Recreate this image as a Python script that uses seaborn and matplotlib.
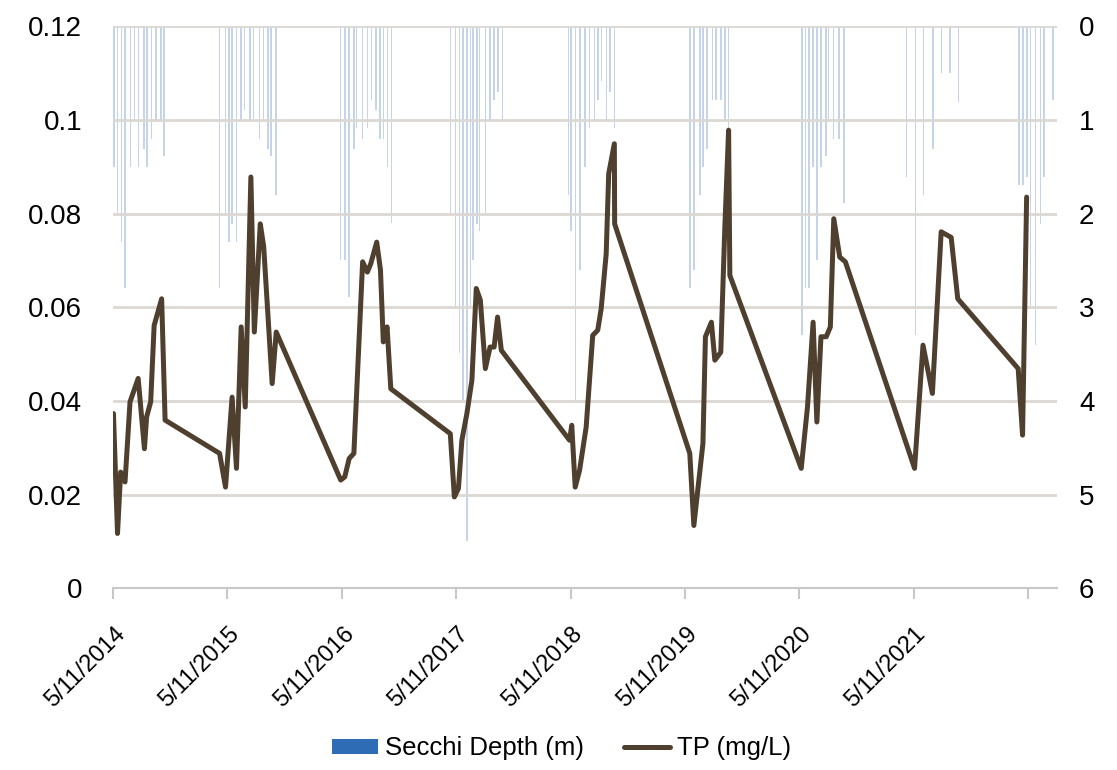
import pandas as pd
import numpy as np
import matplotlib
matplotlib.use("Agg")
import matplotlib.pyplot as plt
import matplotlib.transforms as mtransforms
from matplotlib.patches import Patch
from matplotlib.lines import Line2D
import seaborn as sns

# ---------------- data ----------------
tp_dates = [
    "2014-05-12", "2014-05-25", "2014-06-04", "2014-06-18", "2014-07-04", "2014-07-30",
    "2014-08-19", "2014-08-26", "2014-09-08", "2014-09-19", "2014-10-13", "2014-10-24",
    "2015-04-16", "2015-05-05", "2015-05-26", "2015-06-09", "2015-06-24", "2015-07-07",
    "2015-07-25", "2015-08-05", "2015-08-24", "2015-09-04", "2015-10-01", "2015-10-14",
    "2016-05-07", "2016-05-20", "2016-06-03", "2016-06-18", "2016-07-16", "2016-07-31",
    "2016-08-11", "2016-08-30", "2016-09-11", "2016-09-20", "2016-10-02", "2016-10-14",
    "2017-04-22", "2017-05-05", "2017-05-18", "2017-05-29", "2017-06-14", "2017-06-30",
    "2017-07-14", "2017-07-27", "2017-08-12", "2017-08-27", "2017-09-09", "2017-09-20",
    "2017-10-02",
    "2018-05-08", "2018-05-15", "2018-05-26", "2018-06-09", "2018-06-30", "2018-07-21",
    "2018-08-06", "2018-08-17", "2018-09-02", "2018-09-10", "2018-09-28", "2018-09-29",
    "2019-05-27", "2019-06-09", "2019-07-08", "2019-07-16", "2019-08-04", "2019-08-15",
    "2019-09-03", "2019-09-16", "2019-09-28", "2019-10-02",
    "2020-05-17", "2020-06-06", "2020-06-24", "2020-07-06", "2020-07-19", "2020-08-05",
    "2020-08-18", "2020-08-29", "2020-09-17", "2020-10-05",
    "2021-05-14", "2021-06-10", "2021-07-10", "2021-08-07", "2021-09-08", "2021-09-29",
    "2022-04-10", "2022-04-24", "2022-05-07",
]
tp_values = [
    0.0373, 0.0117, 0.0248, 0.0227, 0.0398, 0.0448,
    0.0298, 0.0366, 0.0398, 0.0561, 0.0618, 0.0359,
    0.0288, 0.0216, 0.0408, 0.0256, 0.0558, 0.0387,
    0.0878, 0.0547, 0.0778, 0.0729, 0.0437, 0.0547,
    0.0231, 0.0238, 0.0277, 0.0288, 0.0697, 0.0675,
    0.0693, 0.0739, 0.0679, 0.0526, 0.0558, 0.0426,
    0.0330, 0.0195, 0.0213, 0.0316, 0.0373, 0.0444,
    0.0640, 0.0615, 0.0469, 0.0515, 0.0515, 0.0579,
    0.0508,
    0.0316, 0.0348, 0.0216, 0.0252, 0.0344, 0.0540,
    0.0551, 0.0597, 0.0714, 0.0885, 0.0949, 0.0778,
    0.0288, 0.0134, 0.0309, 0.0537, 0.0568, 0.0487,
    0.0504, 0.0771, 0.0978, 0.0668,
    0.0256, 0.0387, 0.0568, 0.0355, 0.0537, 0.0537,
    0.0558, 0.0789, 0.0707, 0.0697,
    0.0256, 0.0519, 0.0416, 0.0761, 0.0749, 0.0618,
    0.0469, 0.0327, 0.0835,
]

secchi_dates = [
    "2014-05-14", "2014-05-25", "2014-06-07", "2014-06-18", "2014-07-05", "2014-07-18",
    "2014-07-31", "2014-08-18", "2014-08-28", "2014-09-10", "2014-09-25", "2014-10-11",
    "2014-10-21",
    "2015-04-16", "2015-05-05", "2015-05-17", "2015-05-26", "2015-06-09", "2015-06-24",
    "2015-07-05", "2015-07-23", "2015-08-03", "2015-08-22", "2015-09-04", "2015-09-18",
    "2015-09-28", "2015-10-13",
    "2016-05-06", "2016-05-20", "2016-06-03", "2016-06-18", "2016-06-26", "2016-07-16",
    "2016-07-31", "2016-08-14", "2016-08-27", "2016-09-09", "2016-09-20", "2016-10-03",
    "2016-10-16",
    "2017-04-22", "2017-05-08", "2017-05-21", "2017-06-01", "2017-06-14", "2017-06-25",
    "2017-07-03", "2017-07-16", "2017-07-24", "2017-08-12", "2017-08-26", "2017-09-08",
    "2017-09-22", "2017-10-06",
    "2018-05-05", "2018-05-13", "2018-05-27", "2018-06-11", "2018-06-26", "2018-07-11",
    "2018-07-26", "2018-08-06", "2018-08-18", "2018-09-03", "2018-09-15", "2018-09-29",
    "2019-05-27", "2019-06-09", "2019-06-28", "2019-07-08", "2019-07-21", "2019-08-07",
    "2019-08-18", "2019-09-03", "2019-09-16", "2019-09-28",
    "2020-05-19", "2020-05-30", "2020-06-10", "2020-06-24", "2020-07-06", "2020-07-20",
    "2020-08-04", "2020-08-12", "2020-08-28", "2020-09-15", "2020-10-01",
    "2021-04-18", "2021-05-17", "2021-06-12", "2021-07-12", "2021-08-08", "2021-09-05",
    "2021-10-02",
    "2022-04-12", "2022-04-26", "2022-05-08", "2022-05-19", "2022-06-05", "2022-06-20",
    "2022-07-02", "2022-07-31",
]
secchi_depth = [
    1.50, 2.00, 2.30, 2.80, 1.50, 1.00,
    1.50, 1.31, 1.50, 1.20, 1.00, 1.00,
    1.39,
    2.80, 2.00, 2.30, 2.11, 2.30, 1.00,
    0.90, 1.00, 1.00, 1.20, 1.00, 1.31,
    1.39, 1.80,
    2.50, 2.50, 2.89, 1.31, 1.09, 1.20,
    1.09, 0.79, 0.90, 1.20, 1.20, 1.50,
    2.10,
    2.00, 3.00, 3.49, 3.99, 5.50, 3.00,
    2.50, 2.11, 2.19, 2.00, 1.00, 0.79,
    0.70, 1.00,
    1.80, 2.19, 4.01, 2.60, 1.50, 1.09,
    1.00, 0.79, 0.59, 1.00, 0.70, 1.09,
    2.80, 2.60, 1.80, 1.50, 1.31, 0.79,
    0.79, 0.79, 1.00, 1.09,
    3.30, 2.80, 2.80, 1.50, 2.50, 1.50,
    1.39, 1.00, 1.20, 1.20, 1.89,
    1.61, 3.30, 1.80, 1.31, 0.50, 0.50,
    0.81,
    1.70, 1.70, 1.61, 3.00, 3.40, 2.11,
    1.61, 0.79,
]

tick_dates = ["2014-05-11", "2015-05-11", "2016-05-11", "2017-05-11", "2018-05-11",
              "2019-05-11", "2020-05-11", "2021-05-11", "2022-05-11"]
tick_labels = ["5/11/2014", "5/11/2015", "5/11/2016", "5/11/2017", "5/11/2018",
               "5/11/2019", "5/11/2020", "5/11/2021", ""]

tp_ticks = [0, 0.02, 0.04, 0.06, 0.08, 0.1, 0.12]
tp_tick_labels = ["0", "0.02", "0.04", "0.06", "0.08", "0.1", "0.12"]
secchi_ticks = [0, 1, 2, 3, 4, 5, 6]

# ---------------- plot ----------------
sns.set_theme(style="white")
plt.rcParams["font.family"] = ["Liberation Sans", "DejaVu Sans"]
plt.rcParams["text.color"] = "black"

LINE_C = "#4f3f2f"
BAR_C = "#aec3e0"
LEG_BAR_C = "#2e6cb5"
GRID_C = "#dcd8d3"

fig = plt.figure(figsize=(11.17, 7.70), dpi=100)
ax = fig.add_axes([0.101, 0.236, 0.845, 0.730])
ax2 = ax.twinx()

tp_df = pd.DataFrame({"date": pd.to_datetime(tp_dates), "tp": tp_values})
sec_df = pd.DataFrame({"date": pd.to_datetime(secchi_dates), "depth": secchi_depth})

# Secchi bars on the secondary (reversed) axis
ax2.bar(sec_df["date"], sec_df["depth"], width=5, color=BAR_C, alpha=0.7,
        linewidth=0, align="center")
ax2.set_ylim(6, 0)
ax2.set_yticks(secchi_ticks)
ax2.set_yticklabels([str(t) for t in secchi_ticks], fontsize=20)
ax2.tick_params(axis="y", length=0, pad=16, labelcolor="black")

# TP line on primary axis, drawn above bars
ax.set_zorder(ax2.get_zorder() + 1)
ax.patch.set_visible(False)
sns.lineplot(data=tp_df, x="date", y="tp", ax=ax, color=LINE_C, linewidth=3.6,
             sort=False, legend=False)
ax.set_ylim(0, 0.12)
ax.set_yticks(tp_ticks)
ax.set_yticklabels(tp_tick_labels, fontsize=20)
ax.tick_params(axis="y", length=0, pad=22, labelcolor="black")
ax.grid(axis="y", color=GRID_C, linewidth=2)
ax.grid(axis="x", visible=False)
ax.set_xlabel("")
ax.set_ylabel("")

xmin = pd.Timestamp("2014-05-10")
xmax = pd.Timestamp("2022-08-11")
ax.set_xlim(xmin, xmax)
ax2.set_xlim(xmin, xmax)
ax.set_xticks(pd.to_datetime(tick_dates))
ax.set_xticklabels(tick_labels, rotation=45, ha="right", rotation_mode="anchor",
                   fontsize=17)
ax.tick_params(axis="x", length=8, width=1.5, color="#c8c8c8", direction="out",
               pad=17, bottom=True, labelcolor="black")
offset = mtransforms.ScaledTranslation(1 / 100, 0, fig.dpi_scale_trans)
for lab in ax.get_xticklabels():
    lab.set_transform(lab.get_transform() + offset)

for a in (ax, ax2):
    for s in ("top", "left", "right", "bottom"):
        a.spines[s].set_visible(False)
ax.spines["bottom"].set_visible(True)
ax.spines["bottom"].set_color("#c8c8c8")
ax.spines["bottom"].set_linewidth(1.5)

handles = [Patch(facecolor=LEG_BAR_C, edgecolor="none", label="Secchi Depth (m)"),
           Line2D([0], [0], color=LINE_C, linewidth=3.6, label="TP (mg/L)")]
fig.legend(handles=handles, loc="center", bbox_to_anchor=(0.503, 0.028), ncol=2,
           frameon=False, fontsize=18.5, handlelength=1.8, handletextpad=0.27,
           columnspacing=1.55, handleheight=0.55)

fig.savefig("out.png", dpi=100)
